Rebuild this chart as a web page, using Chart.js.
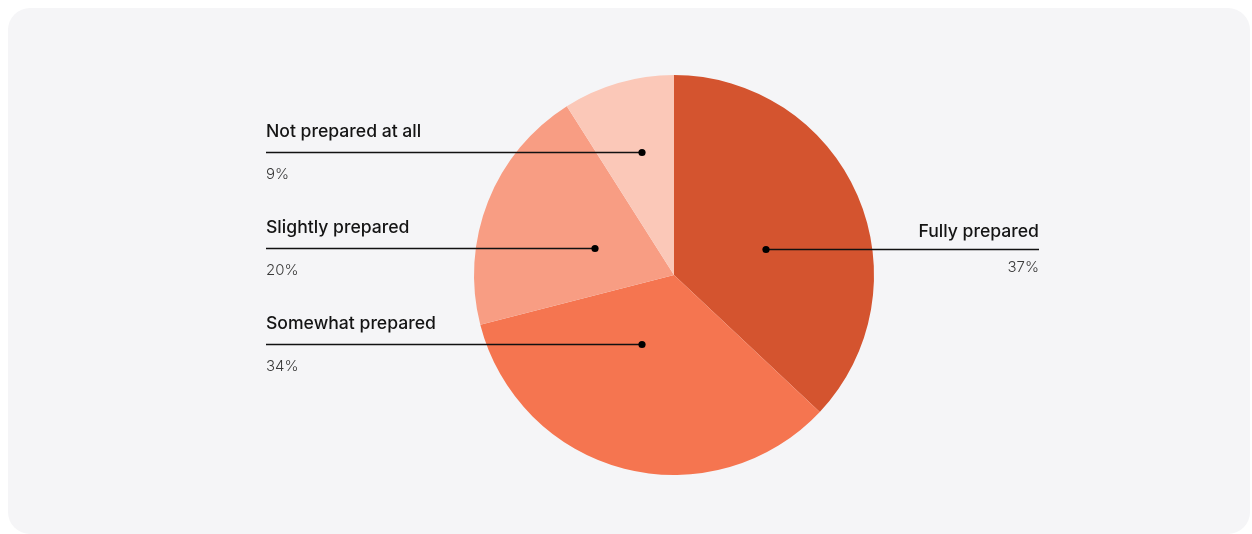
<!DOCTYPE html>
<html>
<head>
<meta charset="utf-8">
<script src="https://cdn.jsdelivr.net/npm/chart.js@4/dist/chart.umd.min.js"></script>
<style>
  html, body { margin: 0; padding: 0; background: #ffffff; }
  #wrap { position: relative; width: 1252px; height: 534px; }
  #card { position: absolute; left: 8px; top: 8px; width: 1242px; height: 526px;
          background: #f5f5f7; border-radius: 22px; }
  canvas { position: absolute; left: 0; top: 0; }
</style>
</head>
<body>
<div id="wrap">
  <div id="card"></div>
  <canvas id="chart" width="1252" height="534"></canvas>
</div>
<script>
// Preparedness survey: share of respondents per category
const categories = ['Fully prepared', 'Somewhat prepared', 'Slightly prepared', 'Not prepared at all'];
const shares = [37, 34, 20, 9];
const shareLabels = ['37%', '34%', '20%', '9%'];
const sliceColors = ['#d4542f', '#f57550', '#f89d83', '#fbc8b8'];

// Callout placement: which side, leader line y offset from the pie centre,
// and how far the dot sits horizontally from the centre.
const calloutSide = ['right', 'left', 'left', 'left'];
const calloutDy = [-26, 69, -27, -123];
const calloutDx = [92, -32, -79, -32];

const calloutPlugin = {
  id: 'callouts',
  afterDatasetsDraw(chart) {
    const ctx = chart.ctx;
    const arc = chart.getDatasetMeta(0).data[0];
    const cx = arc.x, cy = arc.y;
    ctx.save();
    categories.forEach((name, i) => {
      const y = cy + calloutDy[i];
      const dotX = cx + calloutDx[i];
      const right = calloutSide[i] === 'right';
      const endX = right ? cx + 365 : cx - 408;
      ctx.strokeStyle = '#111111';
      ctx.lineWidth = 1.3;
      ctx.beginPath();
      ctx.moveTo(endX, y + 0.5);
      ctx.lineTo(dotX, y + 0.5);
      ctx.stroke();
      ctx.fillStyle = '#000000';
      ctx.beginPath();
      ctx.arc(dotX, y + 0.5, 3.6, 0, Math.PI * 2);
      ctx.fill();
      ctx.textAlign = right ? 'right' : 'left';
      ctx.textBaseline = 'alphabetic';
      ctx.fillStyle = '#141414';
      ctx.font = '500 17.6px Inter, "Noto Sans", sans-serif';
      ctx.fillText(name, endX, y - (right ? 12 : 15));
      ctx.fillStyle = '#3a3a3a';
      ctx.font = '300 15px Inter, "Noto Sans", sans-serif';
      ctx.fillText(shareLabels[i], endX, y + (right ? 23 : 27));
    });
    ctx.restore();
  }
};

new Chart(document.getElementById('chart'), {
  type: 'pie',
  data: {
    labels: categories,
    datasets: [{
      data: shares,
      backgroundColor: sliceColors,
      borderWidth: 0
    }]
  },
  options: {
    responsive: false,
    animation: false,
    layout: { padding: { top: 75, bottom: 59, left: 474, right: 378 } },
    plugins: { legend: { display: false }, tooltip: { enabled: false } }
  },
  plugins: [calloutPlugin]
});
</script>
</body>
</html>
